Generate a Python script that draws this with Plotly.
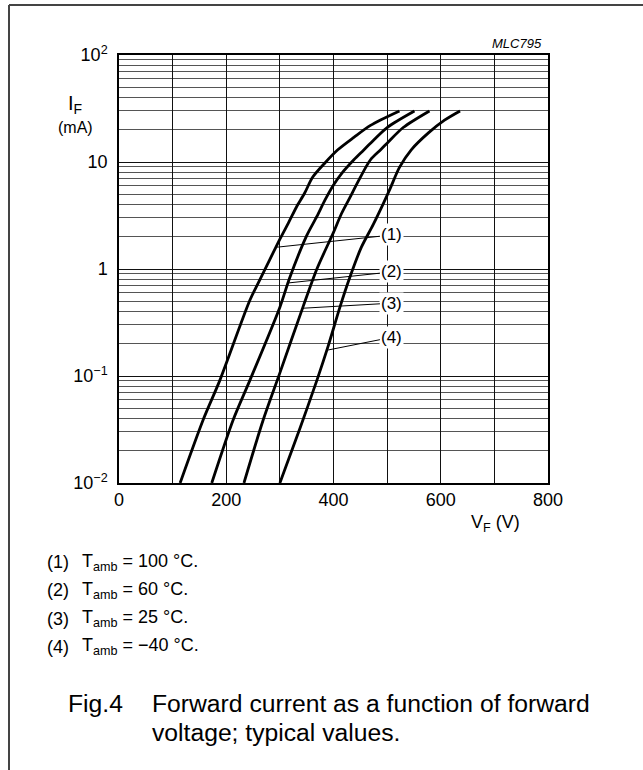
import numpy as np
import plotly.graph_objects as go

# ---- data ----
v_100 = [114, 157, 188, 244, 263, 300, 316, 331, 346, 361, 384, 408, 438, 469, 523]
i_100 = [0.01, 0.039, 0.091, 0.51, 0.8, 1.9, 2.7, 3.8, 5.1, 7.2, 9.8, 13, 17, 22, 30]

v_60 = [173, 213, 244, 300, 318, 350, 369, 384, 400, 415, 438, 456, 469, 500, 551]
i_60 = [0.01, 0.039, 0.091, 0.44, 0.82, 2.05, 3.1, 4.4, 6.1, 7.8, 10.5, 12.9, 15, 21, 30]

v_25 = [233, 269, 300, 343, 369, 400, 415, 431, 446, 469, 487, 500, 530, 579]
i_25 = [0.01, 0.039, 0.107, 0.44, 1.0, 2.2, 3.3, 4.7, 6.6, 10.5, 12.9, 15, 21, 30]

v_m40 = [300, 338, 369, 390, 412, 431, 452, 474, 492, 506, 523, 545, 577, 607, 636]
i_m40 = [0.01, 0.033, 0.091, 0.19, 0.44, 0.85, 1.6, 2.6, 4.0, 5.7, 8.9, 13, 18.7, 24.6, 30]

curve_labels = ["(1)", "(2)", "(3)", "(4)"]
legend_temps = ["100 °C.", "60 °C.", "25 °C.", "−40 °C."]

x_tickvals = [0, 100, 200, 300, 400, 500, 600, 700, 800]
x_ticktext = ["0", "", "200", "", "400", "", "600", "", "800"]
y_tickvals = [0.01, 0.1, 1, 10, 100]
y_ticktext = ["10<sup>−2</sup>", "10<sup>−1</sup>", "1", "10", "10<sup>2</sup>"]

# ---- layout geometry (pixels) ----
W, H = 643, 770
L, R, T, B = 119, 548, 55, 483
FONT = "Liberation Sans, Arial, Helvetica, sans-serif"


def px(x):
    return (x - L) / (R - L)


def py(y):
    return (B - y) / (B - T)


fig = go.Figure()
for v, i in [(v_100, i_100), (v_60, i_60), (v_25, i_25), (v_m40, i_m40)]:
    fig.add_trace(go.Scatter(x=v, y=i, mode="lines",
                             line=dict(color="black", width=2.8, shape="spline", smoothing=0.8),
                             showlegend=False, hoverinfo="skip"))

minor_vals = [m * 10.0 ** d for d in range(-2, 2) for m in range(2, 10)]

fig.update_layout(
    width=W, height=H,
    margin=dict(l=L, r=W - R, t=T, b=H - B, pad=0),
    paper_bgcolor="white", plot_bgcolor="white",
    font=dict(family=FONT, color="black", size=18),
    xaxis=dict(range=[0, 800], tickmode="array", tickvals=x_tickvals, ticktext=x_ticktext,
               showgrid=True, gridcolor="#111", gridwidth=1, zeroline=False,
               showline=True, linecolor="black", linewidth=1.5, mirror=True,
               ticks="", ticklabelstandoff=0, tickfont=dict(size=18)),
    yaxis=dict(type="log", range=[-2, 2], tickmode="array", tickvals=y_tickvals, ticktext=y_ticktext,
               showgrid=True, gridcolor="#111", gridwidth=1, zeroline=False,
               showline=True, linecolor="black", linewidth=1.5, mirror=True,
               ticks="", ticklabelstandoff=6, tickfont=dict(size=18),
               minor=dict(tickmode="array", tickvals=minor_vals, showgrid=True,
                          gridcolor="#555", gridwidth=1, ticks="")),
)

ann = []
# curve labels with leaders (point on curve -> label)
leader_pts = [(295, 1.6), (315, 0.74), (343, 0.43), (390, 0.175)]
label_pos = [(509, 2.08), (509, 0.94), (509, 0.48), (509, 0.23)]
for lab, (cx, cy), (lx, ly) in zip(curve_labels, leader_pts, label_pos):
    ann.append(dict(x=cx, y=np.log10(cy), xref="x", yref="y",
                    ax=lx, ay=np.log10(ly), axref="x", ayref="y",
                    text=lab, showarrow=True, arrowhead=0, arrowwidth=1, arrowcolor="black",
                    bgcolor="white", borderpad=1, font=dict(size=17)))


def txt(x, y, text, size, xanchor="center"):
    return dict(x=px(x), y=py(y), xref="paper", yref="paper", text=text,
                xanchor=xanchor, yanchor="middle", showarrow=False, font=dict(size=size))


# axis titles
ann.append(txt(75, 104, "I<sub>F</sub>", 20))
ann.append(txt(75, 127, "(mA)", 16))
ann.append(txt(495, 523, "V<sub>F</sub> (V)", 18))
ann.append(txt(544, 43, "<i>MLC795</i>", 13, "right"))

# legend lines
for k, (lab, t) in enumerate(zip(curve_labels, legend_temps)):
    yy = 562 + 28.3 * k
    ann.append(txt(45, yy, lab, 18, "left"))
    ann.append(txt(80, yy, "T<sub>amb</sub> = " + t, 18, "left"))

# caption
ann.append(txt(66, 704, "Fig.4", 24.7, "left"))
ann.append(txt(150, 704, "Forward current as a function of forward", 24.7, "left"))
ann.append(txt(150, 732, "voltage; typical values.", 24.7, "left"))
fig.update_layout(annotations=ann)

# frame (top and left edges)
fig.add_shape(type="line", xref="paper", yref="paper", x0=px(9), x1=px(650), y0=py(5), y1=py(5),
              line=dict(color="#444", width=2))
fig.add_shape(type="line", xref="paper", yref="paper", x0=px(9), x1=px(9), y0=py(5), y1=py(780),
              line=dict(color="#444", width=2))

fig.write_html("out.html", config={"displayModeBar": False},
               post_script="document.body.style.margin='0';document.body.style.overflow='hidden';")
